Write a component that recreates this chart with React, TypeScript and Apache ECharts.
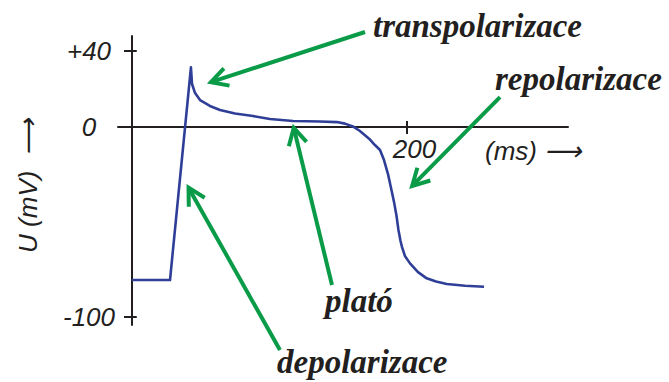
import React, { useEffect, useRef } from "react";
import * as echarts from "echarts";

// Action potential curve (time in ms, membrane voltage in mV)
const timeMs = [0, 27.8, 43.0, 43.8, 46.0, 49.6, 56.8, 64.1, 75.0, 88.1, 100.4, 117.2, 136.8, 149.1, 154.9, 160.7, 165.8, 173.1, 176.7, 180.4, 183.3, 186.2, 188.4, 190.6, 192.4, 193.8, 195.3, 196.4, 198.5, 202.2, 208.0, 214.3, 221.1, 228.9, 242.2, 256.0];
const voltage = [-80.7, -80.7, 31.5, 22.7, 17.9, 14.2, 11.1, 9.0, 7.1, 5.8, 4.2, 3.2, 2.9, 2.6, 1.8, 0.3, -2.1, -6.6, -9.5, -12.1, -17.4, -24.8, -32.2, -39.6, -46.9, -54.3, -60.1, -63.3, -68.0, -71.9, -76.5, -79.8, -81.5, -82.8, -83.7, -84.2];

// Axis ticks
const yTickValues = [-100, 40];
const yLabelValues = [-100, 0, 40];
const xTickValues = [200];
const xLabelValues = [200];

// Annotation arrows: tail -> tip (data units)
const arrowNames = ["transpolarizace", "repolarizace", "plató", "depolarizace"];
const arrowTailX = [169.5, 267.6, 145.5, 107.7];
const arrowTailY = [50.1, 15.8, -83.3, -117.6];
const arrowTipX = [55.4, 202.2, 117.2, 40.2];
const arrowTipY = [23.2, -32.2, 1.1, -30.6];

const INK = "#231f20";
const BLUE = "#2f3f98";
const GREEN = "#0a9b48";
const AXIS_FONT = "Liberation Sans";
const NOTE_FONT = "bold italic 33px 'Liberation Serif'";

export default function App() {
  const ref = useRef<HTMLDivElement | null>(null);

  useEffect(() => {
    if (!ref.current) return;
    const chart = echarts.init(ref.current, null, { renderer: "svg" });

    const curve = timeMs.map((t, i) => [t, voltage[i]]);
    const arrows = arrowNames.map((n, i) => ({
      name: n,
      value: [arrowTailX[i], arrowTailY[i], arrowTipX[i], arrowTipY[i]],
    }));

    const yMin = -104.4;
    const yMax = 48;
    const xMin = -10;
    const xMax = 317;

    const axisLineStyle = { color: INK, width: 2 };
    const hiddenLine = { color: INK, width: 2, opacity: 0 };
    const labelFont = {
      fontFamily: AXIS_FONT,
      fontStyle: "italic",
      fontSize: 26,
      color: INK,
    };

    chart.setOption({
      animation: false,
      backgroundColor: "#ffffff",
      grid: [
        // main plotting area (time axis starts a little before 0 ms)
        { left: 118, right: 101, top: 36, bottom: 57, containLabel: false },
        // band whose bottom edge lies on U = 0: carries the visible time axis
        { left: 118, right: 101, top: 36, bottom: 255, containLabel: false },
        // band whose left edge lies on t = 0: carries the visible voltage axis
        { left: 132, right: 101, top: 36, bottom: 57, containLabel: false },
      ],
      xAxis: [
        {
          type: "value",
          gridIndex: 0,
          min: xMin,
          max: xMax,
          axisLine: { show: true, onZero: true, lineStyle: hiddenLine },
          axisTick: { show: true, inside: true, length: 6, lineStyle: axisLineStyle, customValues: xTickValues },
          axisLabel: { show: false },
          splitLine: { show: false },
        },
        {
          type: "value",
          gridIndex: 1,
          position: "bottom",
          min: xMin,
          max: xMax,
          axisLine: { show: true, onZero: false, lineStyle: axisLineStyle },
          axisTick: { show: true, inside: false, length: 7, lineStyle: axisLineStyle, customValues: xTickValues },
          axisLabel: {
            show: true,
            customValues: xLabelValues,
            margin: 9,
            align: "center",
            padding: [0, 0, 0, 15],
            ...labelFont,
          },
          splitLine: { show: false },
        },
        {
          type: "value",
          gridIndex: 2,
          min: 0,
          max: xMax,
          show: false,
        },
      ],
      yAxis: [
        {
          type: "value",
          gridIndex: 0,
          min: yMin,
          max: yMax,
          axisLine: { show: true, onZero: true, lineStyle: hiddenLine },
          axisTick: { show: true, inside: true, length: 5, lineStyle: axisLineStyle, customValues: yTickValues },
          axisLabel: { show: false },
          splitLine: { show: false },
        },
        {
          type: "value",
          gridIndex: 1,
          min: 0,
          max: yMax,
          show: false,
        },
        {
          type: "value",
          gridIndex: 2,
          position: "left",
          min: yMin,
          max: yMax,
          axisLine: { show: true, onZero: false, lineStyle: axisLineStyle },
          axisTick: { show: true, inside: false, length: 8, lineStyle: axisLineStyle, customValues: yTickValues },
          axisLabel: {
            show: true,
            customValues: yLabelValues,
            margin: 43,
            align: "center",
            ...labelFont,
            formatter: (v: number) => (v > 0 ? "+" + v : String(v)),
          },
          splitLine: { show: false },
        },
      ],
      series: [
        {
          type: "line",
          name: "U",
          data: curve,
          showSymbol: false,
          symbol: "none",
          lineStyle: { color: BLUE, width: 2.6, join: "round" },
          xAxisIndex: 0,
          yAxisIndex: 0,
          z: 3,
        },
        {
          type: "custom",
          name: "arrows",
          data: arrows,
          clip: false,
          xAxisIndex: 0,
          yAxisIndex: 0,
          encode: { x: [0, 2], y: [1, 3] },
          z: 4,
          renderItem: (params: any, api: any) => {
            const a = api.coord([api.value(0), api.value(1)]);
            const b = api.coord([api.value(2), api.value(3)]);
            const ang = Math.atan2(a[1] - b[1], a[0] - b[0]);
            const back = 3;
            const tip = [b[0] + back * Math.cos(ang), b[1] + back * Math.sin(ang)];
            const L = 19;
            const spread = 0.5;
            const h1 = [tip[0] + L * Math.cos(ang + spread), tip[1] + L * Math.sin(ang + spread)];
            const h2 = [tip[0] + L * Math.cos(ang - spread), tip[1] + L * Math.sin(ang - spread)];
            return {
              type: "group",
              children: [
                {
                  type: "line",
                  shape: { x1: a[0], y1: a[1], x2: tip[0], y2: tip[1] },
                  style: { stroke: GREEN, lineWidth: 4 },
                },
                {
                  type: "polyline",
                  shape: { points: [h1, tip, h2] },
                  style: { stroke: GREEN, lineWidth: 4, fill: null, lineJoin: "miter" },
                },
              ],
            };
          },
        },
      ],
      graphic: [
        {
          type: "text",
          x: 28,
          y: 186,
          rotation: Math.PI / 2,
          style: {
            text: "U (mV)  ⟶",
            font: `italic 26px '${AXIS_FONT}'`,
            fill: INK,
            align: "center",
            verticalAlign: "middle",
          },
        },
        {
          type: "text",
          x: 485,
          y: 151,
          style: {
            text: "(ms) ⟶",
            font: `italic 26px '${AXIS_FONT}'`,
            fill: INK,
            align: "left",
            verticalAlign: "middle",
          },
        },
        { type: "text", x: 373, y: 26, style: { text: arrowNames[0], font: NOTE_FONT, fill: INK, align: "left", verticalAlign: "middle" } },
        { type: "text", x: 495, y: 79, style: { text: arrowNames[1], font: NOTE_FONT, fill: INK, align: "left", verticalAlign: "middle" } },
        { type: "text", x: 325, y: 301, style: { text: arrowNames[2], font: NOTE_FONT, fill: INK, align: "left", verticalAlign: "middle" } },
        { type: "text", x: 277, y: 362, style: { text: arrowNames[3], font: NOTE_FONT, fill: INK, align: "left", verticalAlign: "middle" } },
      ],
    });

    return () => chart.dispose();
  }, []);

  return (
    <div
      ref={ref}
      style={{ position: "fixed", left: 0, top: 0, width: 669, height: 382, background: "#ffffff" }}
    />
  );
}
